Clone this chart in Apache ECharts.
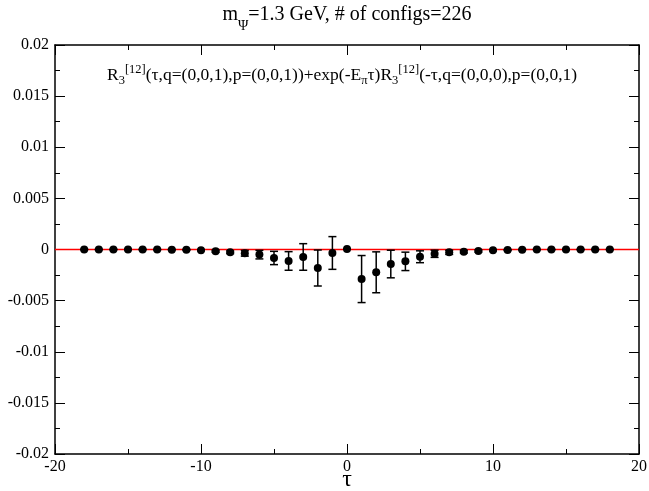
<!DOCTYPE html>
<html>
<head>
<meta charset="utf-8">
<script src="https://cdn.jsdelivr.net/npm/echarts@6/dist/echarts.min.js"></script>
<style>html,body{margin:0;padding:0;background:#fff}#c{width:649px;height:491px}</style>
</head>
<body>
<div id="c"></div>
<script>
var tau = [-18,-17,-16,-15,-14,-13,-12,-11,-10,-9,-8,-7,-6,-5,-4,-3,-2,-1,0,1,2,3,4,5,6,7,8,9,10,11,12,13,14,15,16,17,18];
var values = [0,0,0,0,0,-0.00001,-0.00002,-0.00003,-0.00007,-0.00017,-0.00027,-0.00037,-0.0005,-0.00083,-0.00112,-0.00073,-0.00181,-0.00034,0.00005,-0.00289,-0.00223,-0.00142,-0.00116,-0.00071,-0.00042,-0.00028,-0.00022,-0.00015,-0.00008,-0.00005,-0.00002,-0.00001,-0.00001,-0.00001,0,0,0];
var errors = [0.00003,0.00003,0.00003,0.00003,0.00003,0.00003,0.00003,0.00004,0.00006,0.0001,0.00013,0.00028,0.00042,0.00065,0.00091,0.0013,0.00176,0.0016,0.00001,0.0023,0.002,0.00135,0.0009,0.00058,0.00035,0.0002,0.00012,0.0001,0.00006,0.00004,0.00003,0.00003,0.00003,0.00003,0.00003,0.00003,0.00003];
var xTicks = [-20,-10,0,10,20];
var yTicks = [-0.02,-0.015,-0.01,-0.005,0,0.005,0.01,0.015,0.02];
var refLineX = [-20, 20];
var refLineY = [0, 0];

var F = '"Liberation Serif","DejaVu Serif",serif';
var points = tau.map(function(t,i){return [t, values[i]];});
var bars = tau.map(function(t,i){return [t, values[i]-errors[i], values[i]+errors[i]];});
var refPts = refLineX.map(function(x,i){return [x, refLineY[i]];});

function fmtY(v){ var s = +v.toFixed(4); return String(s); }

function axisCommon(){ return {
  axisLine:{onZero:false,lineStyle:{color:'#000',width:1.5}},
  axisTick:{inside:true,length:10,lineStyle:{color:'#000',width:1}},
  minorTick:{show:true,splitNumber:2,length:5,lineStyle:{color:'#000',width:1}},
  splitLine:{show:false}
};}

var option = {
  animation:false,
  backgroundColor:'#fff',
  grid:{left:55,right:10,top:45,bottom:37,containLabel:false,outerBoundsMode:'none'},
  xAxis:[
    Object.assign({type:'value',min:xTicks[0],max:xTicks[xTicks.length-1],interval:10,position:'bottom',
      axisLabel:{fontFamily:F,fontSize:16,color:'#000',margin:5}},axisCommon()),
    Object.assign({type:'value',min:xTicks[0],max:xTicks[xTicks.length-1],interval:10,position:'top',
      axisLabel:{show:false}},axisCommon())
  ],
  yAxis:[
    Object.assign({type:'value',min:yTicks[0],max:yTicks[yTicks.length-1],interval:0.005,position:'left',
      axisLabel:{fontFamily:F,fontSize:16,color:'#000',margin:6,formatter:fmtY}},axisCommon()),
    Object.assign({type:'value',min:yTicks[0],max:yTicks[yTicks.length-1],interval:0.005,position:'right',
      axisLabel:{show:false}},axisCommon())
  ],
  graphic:[
    {type:'text',x:347,y:5,style:{
      text:'{n|m}{s|Ψ}{n|=1.3 GeV, # of configs=226}',
      textAlign:'center',
      rich:{
        n:{fontFamily:F,fontSize:20,color:'#000',lineHeight:24,verticalAlign:'top'},
        s:{fontFamily:F,fontSize:14,color:'#000',lineHeight:14,verticalAlign:'bottom',padding:[0,0,-4,0]}
      }}},
    {type:'text',x:107,y:63,style:{
      text:'{n|R}{sb|3}{sp|[12]}{n|(τ,q=(0,0,1),p=(0,0,1))+exp(-E}{sb|π}{n|τ)R}{sb|3}{sp|[12]}{n|(-τ,q=(0,0,0),p=(0,0,1)}',
      rich:{
        n:{fontFamily:F,fontSize:17.5,color:'#000',lineHeight:24,verticalAlign:'middle'},
        sp:{fontFamily:F,fontSize:12.5,color:'#000',lineHeight:10,verticalAlign:'top'},
        sb:{fontFamily:F,fontSize:12.5,color:'#000',lineHeight:10,verticalAlign:'bottom'}
      }}},
    {type:'text',x:347,y:468,style:{text:'τ',textAlign:'center',fontFamily:F,fontSize:24,fill:'#000'}}
  ],
  series:[
    {
      type:'line',
      xAxisIndex:0,yAxisIndex:0,
      data:refPts,
      symbol:'none',
      lineStyle:{color:'#ff0000',width:1.5},
      z:2,
      silent:true
    },
    {
      type:'custom',
      xAxisIndex:0,yAxisIndex:0,
      data:bars,
      z:3,
      renderItem:function(params,api){
        var x = api.value(0);
        var lo = api.coord([x, api.value(1)]);
        var hi = api.coord([x, api.value(2)]);
        var hw = 4;
        var st = {stroke:'#000',lineWidth:1.5};
        return {type:'group',children:[
          {type:'line',shape:{x1:lo[0],y1:lo[1],x2:hi[0],y2:hi[1]},style:st},
          {type:'line',shape:{x1:lo[0]-hw,y1:lo[1],x2:lo[0]+hw,y2:lo[1]},style:st},
          {type:'line',shape:{x1:hi[0]-hw,y1:hi[1],x2:hi[0]+hw,y2:hi[1]},style:st}
        ]};
      }
    },
    {
      type:'scatter',
      xAxisIndex:0,yAxisIndex:0,
      data:points,
      symbol:'circle',symbolSize:8,
      itemStyle:{color:'#000',opacity:1},
      z:4
    }
  ]
};
var chart = echarts.init(document.getElementById('c'),null,{renderer:'canvas'});
chart.setOption(option);
</script>
</body>
</html>
